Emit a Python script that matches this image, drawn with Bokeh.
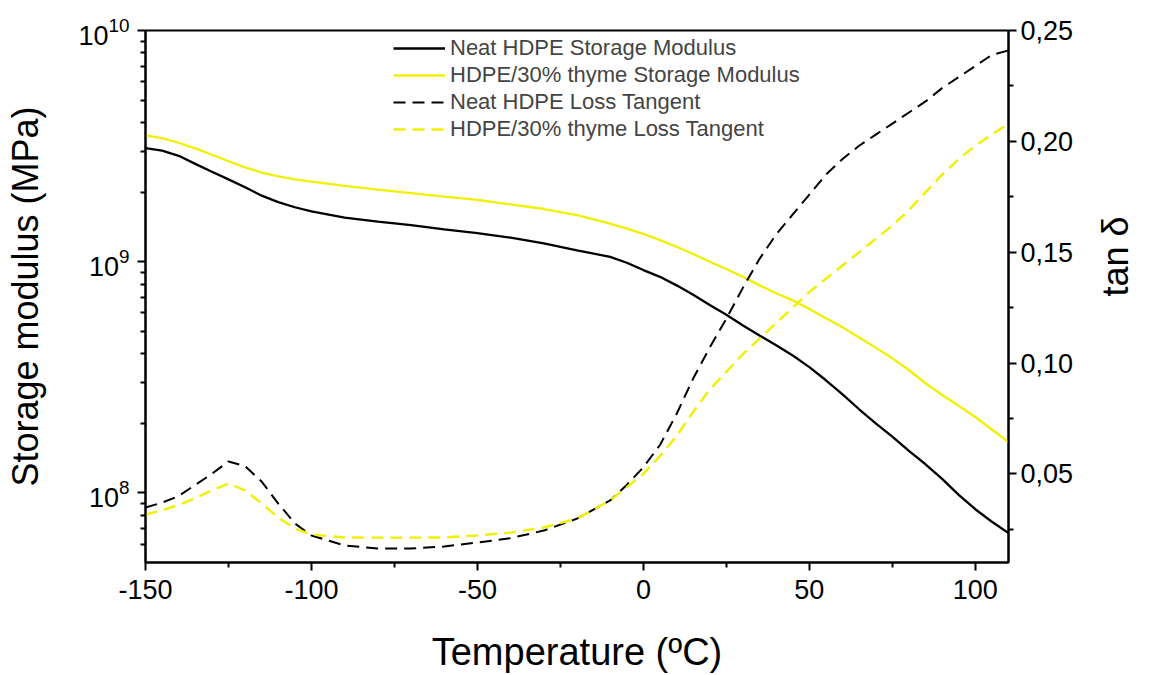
from math import pi
from bokeh.plotting import figure
from bokeh.models import (Range1d, LinearAxis, LinearScale, FixedTicker,
                          CustomJSTickFormatter, Legend, LegendItem)
from bokeh.embed import file_html
from bokeh.resources import INLINE

# ---------------- data ----------------
temperature = [-150, -145, -140, -135, -130, -125, -120, -115, -110, -105, -100,
               -90, -80, -70, -60, -50, -40, -30, -20, -10, -5, 0, 5, 10, 15, 20,
               25, 30, 35, 40, 45, 50, 55, 60, 65, 70, 75, 80, 85, 90, 95, 100,
               105, 110]

neat_storage = [3.10e9, 3.02e9, 2.87e9, 2.65e9, 2.45e9, 2.27e9, 2.10e9, 1.93e9,
                1.81e9, 1.72e9, 1.65e9, 1.55e9, 1.49e9, 1.44e9, 1.38e9, 1.33e9,
                1.27e9, 1.20e9, 1.12e9, 1.05e9, 9.9e8, 9.2e8, 8.6e8, 7.9e8, 7.2e8,
                6.5e8, 5.9e8, 5.3e8, 4.8e8, 4.35e8, 3.93e8, 3.5e8, 3.07e8, 2.67e8,
                2.3e8, 2.0e8, 1.75e8, 1.52e8, 1.33e8, 1.15e8, 9.8e7, 8.5e7, 7.5e7,
                6.7e7]

thyme_storage = [3.52e9, 3.42e9, 3.27e9, 3.09e9, 2.90e9, 2.72e9, 2.56e9, 2.43e9,
                 2.34e9, 2.27e9, 2.22e9, 2.13e9, 2.05e9, 1.98e9, 1.91e9, 1.85e9,
                 1.77e9, 1.69e9, 1.59e9, 1.46e9, 1.39e9, 1.32e9, 1.24e9, 1.16e9,
                 1.08e9, 1.00e9, 9.3e8, 8.6e8, 7.9e8, 7.3e8, 6.8e8, 6.25e8, 5.7e8,
                 5.2e8, 4.7e8, 4.25e8, 3.82e8, 3.4e8, 2.98e8, 2.65e8, 2.38e8, 2.13e8,
                 1.88e8, 1.66e8]

neat_tan = [0.0348, 0.037, 0.040, 0.045, 0.050, 0.0556, 0.0535, 0.0465, 0.0366,
            0.0276, 0.0222, 0.0177, 0.0163, 0.0163, 0.0172, 0.019, 0.021, 0.0244,
            0.0298, 0.038, 0.045, 0.053, 0.063, 0.077, 0.093, 0.107, 0.120, 0.134,
            0.147, 0.158, 0.167, 0.176, 0.185, 0.192, 0.198, 0.203, 0.208, 0.213,
            0.218, 0.224, 0.229, 0.234, 0.239, 0.241]

thyme_tan = [0.0317, 0.0335, 0.036, 0.039, 0.0425, 0.0456, 0.0425, 0.0366,
             0.0303, 0.0253, 0.0226, 0.0213, 0.0212, 0.0212, 0.0213, 0.0222,
             0.0235, 0.0258, 0.0298, 0.038, 0.044, 0.050, 0.058, 0.067, 0.078,
             0.088, 0.096, 0.104, 0.111, 0.118, 0.125, 0.132, 0.138, 0.144, 0.150,
             0.156, 0.162, 0.169, 0.177, 0.185, 0.192, 0.198, 0.203, 0.208]

series_labels = ["Neat HDPE Storage Modulus", "HDPE/30% thyme Storage Modulus",
                 "Neat HDPE Loss Tangent", "HDPE/30% thyme Loss Tangent"]

x_title = "Temperature (ºC)"
left_title = "Storage modulus (MPa)"
right_title = "tan δ"

x_ticks = [-150, -100, -50, 0, 50, 100]
x_minor = [-125, -75, -25, 25, 75]
left_ticks = [1e8, 1e9, 1e10]
left_minor = [6e7, 7e7, 8e7, 9e7] + [m * 1e8 for m in range(2, 10)] + [m * 1e9 for m in range(2, 10)]
right_ticks = [0.05, 0.10, 0.15, 0.20, 0.25]
right_minor = [0.025, 0.075, 0.125, 0.175, 0.225]

FONT = "Liberation Sans"
YELLOW = "#f0f000"

# ---------------- figure ----------------
W, H = 1159, 675
BL, BR, BT, BB = 145, 151, 30, 113

p = figure(width=W, height=H, y_axis_type="log",
           x_range=Range1d(-150, 110), y_range=Range1d(5e7, 1e10),
           output_backend="svg", toolbar_location=None,
           min_border_left=BL, min_border_right=BR,
           min_border_top=BT, min_border_bottom=BB)
p.extra_y_ranges = {"tan": Range1d(0.01, 0.25)}
p.extra_y_scales = {"tan": LinearScale()}

p.xgrid.visible = False
p.ygrid.visible = False
p.outline_line_color = "black"
p.outline_line_width = 2
p.outline_line_alpha = 1
p.background_fill_color = "white"
p.border_fill_color = "white"

r1 = p.line(temperature, neat_storage, line_color="black", line_width=2.3)
r2 = p.line(temperature, thyme_storage, line_color=YELLOW, line_width=2.3)
r3 = p.line(temperature, neat_tan, line_color="black", line_width=2,
            line_dash="12 7", y_range_name="tan")
r4 = p.line(temperature, thyme_tan, line_color=YELLOW, line_width=2.4,
            line_dash="12 7", y_range_name="tan")

right = LinearAxis(y_range_name="tan")
p.add_layout(right, "right")

p.xaxis.ticker = FixedTicker(ticks=x_ticks, minor_ticks=x_minor)
p.xaxis.formatter = CustomJSTickFormatter(code="return tick.toString()")
p.yaxis[0].ticker = FixedTicker(ticks=left_ticks, minor_ticks=left_minor)
right.ticker = FixedTicker(ticks=right_ticks, minor_ticks=right_minor)
right.formatter = CustomJSTickFormatter(code="return tick.toFixed(2).replace('.', ',')")

p.xaxis.axis_label = x_title
p.yaxis[0].axis_label = left_title
right.axis_label = right_title

for ax in [p.xaxis[0], p.yaxis[0], right]:
    ax.axis_line_color = "black"
    ax.axis_line_width = 2
    ax.major_tick_line_color = "black"
    ax.major_tick_line_width = 2
    ax.minor_tick_line_color = "black"
    ax.minor_tick_line_width = 2
    ax.major_tick_in = 0
    ax.major_tick_out = 8
    ax.minor_tick_in = 0
    ax.minor_tick_out = 5
    ax.major_label_text_font = FONT
    ax.major_label_text_font_size = "27px"
    ax.major_label_text_color = "black"
    ax.axis_label_text_font = FONT
    ax.axis_label_text_font_size = "36px"
    ax.axis_label_text_font_style = "normal"
    ax.axis_label_text_color = "black"

p.xaxis.axis_label_text_font_size = "38px"
p.xaxis.major_label_standoff = 9
p.xaxis.axis_label_standoff = 29
p.yaxis[0].major_label_standoff = 8
p.yaxis[0].axis_label_standoff = 29
right.major_label_standoff = 4
right.axis_label_standoff = 39
try:
    right.axis_label_orientation = pi / 2
except Exception:
    pass

legend = Legend(items=[LegendItem(label=series_labels[0], renderers=[r1]),
                       LegendItem(label=series_labels[1], renderers=[r2]),
                       LegendItem(label=series_labels[2], renderers=[r3]),
                       LegendItem(label=series_labels[3], renderers=[r4])],
                location=(248, 420))
legend.border_line_color = None
legend.background_fill_alpha = 0
legend.padding = 5
legend.spacing = 1
legend.margin = 0
legend.glyph_height = 24
legend.glyph_width = 52
legend.label_standoff = 5
legend.label_text_font = FONT
legend.label_text_font_size = "22px"
legend.label_height = 24
p.add_layout(legend)

open("out.html", "w").write(file_html(p, INLINE))
